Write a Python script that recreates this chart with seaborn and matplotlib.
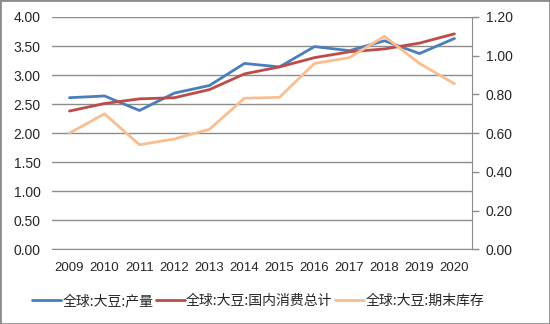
import matplotlib
matplotlib.use("Agg")
import matplotlib.pyplot as plt
import seaborn as sns
import pandas as pd
from matplotlib.lines import Line2D
from matplotlib.patches import Rectangle

years = ["2009", "2010", "2011", "2012", "2013", "2014", "2015", "2016", "2017", "2018", "2019", "2020"]
production = [2.61, 2.64, 2.39, 2.69, 2.82, 3.20, 3.14, 3.49, 3.42, 3.59, 3.37, 3.63]
consumption = [2.38, 2.51, 2.59, 2.61, 2.75, 3.02, 3.14, 3.30, 3.40, 3.45, 3.55, 3.71]
ending_stock = [0.60, 0.70, 0.54, 0.57, 0.62, 0.78, 0.785, 0.96, 0.99, 1.10, 0.96, 0.855]
names = ["全球:大豆:产量", "全球:大豆:国内消费总计", "全球:大豆:期末库存"]
colors = ["#4A7EBB", "#BE4B48", "#F9BE8F"]

sns.set_style("white")
plt.rcParams['font.family'] = ['Liberation Sans', 'Noto Sans CJK SC']

df = pd.DataFrame({"year": years, "production": production,
                   "consumption": consumption, "stock": ending_stock})
df["x"] = range(len(years))

fig = plt.figure(figsize=(5.5, 3.24), dpi=100)
ax = fig.add_axes([0.0945, 0.2306, 0.7636, 0.717])
ax2 = ax.twinx()

sns.lineplot(data=df, x="x", y="production", ax=ax, color=colors[0], linewidth=2)
sns.lineplot(data=df, x="x", y="consumption", ax=ax, color=colors[1], linewidth=2)
sns.lineplot(data=df, x="x", y="stock", ax=ax2, color=colors[2], linewidth=2)

ax.set_xlim(-0.5, len(years) - 0.5)
ax.set_ylim(0, 4)
ax2.set_ylim(0, 1.2)
ax.set_yticks([i * 0.5 for i in range(9)])
ax.set_yticklabels([f"{i*0.5:.2f}" for i in range(9)])
ax2.set_yticks([i * 0.2 for i in range(7)])
ax2.set_yticklabels([f"{i*0.2:.2f}" for i in range(7)])
ax.set_xticks(range(len(years)))
ax.set_xticklabels(years)
ax.set_xlabel("")
ax.set_ylabel("")
ax2.set_ylabel("")

ax.grid(axis="y", color="#8C8C8C", linewidth=1)
ax.set_axisbelow(True)
for s in ["top", "left", "right"]:
    ax.spines[s].set_visible(False)
ax.spines["bottom"].set_color("#8C8C8C")
for s in ["top", "left", "bottom"]:
    ax2.spines[s].set_visible(False)
ax2.spines["right"].set_visible(True)
ax2.spines["right"].set_color("#8C8C8C")

tc = "#262626"
ax.tick_params(axis="y", length=0, pad=8, labelsize=10, labelcolor=tc)
ax.tick_params(axis="x", length=0, pad=9, labelsize=9.5, labelcolor=tc)
ax2.tick_params(axis="y", length=5, width=1, color="#8C8C8C", direction="out",
                pad=5, labelsize=10, labelcolor=tc, right=True)

handles = [Line2D([0], [0], color=c, linewidth=2) for c in colors]
fig.legend(handles, names, loc="center", bbox_to_anchor=(0.469, 0.07), ncol=3,
           frameon=False, handlelength=2.1, handletextpad=0.1, columnspacing=0.15,
           prop={"family": ["Noto Sans CJK SC", "DejaVu Sans"], "size": 10},
           labelcolor=tc)

fig.patches.append(Rectangle((0, 0), 1, 1, transform=fig.transFigure, fill=False,
                             edgecolor="#8C8C8C", linewidth=2))

fig.savefig("out.png", dpi=100)
